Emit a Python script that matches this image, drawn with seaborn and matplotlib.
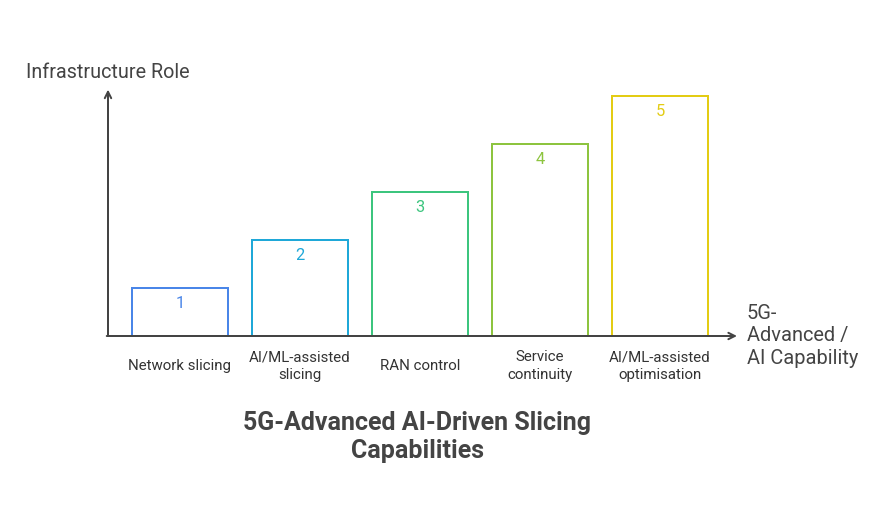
import matplotlib
matplotlib.use("Agg")
import matplotlib.pyplot as plt
import seaborn as sns
import pandas as pd

categories = ["Network slicing", "AI/ML-assisted\nslicing", "RAN control",
              "Service\ncontinuity", "AI/ML-assisted\noptimisation"]
values = [1, 2, 3, 4, 5]
value_labels = ["1", "2", "3", "4", "5"]
colors = ["#4A86E8", "#1FA8D8", "#3CC57E", "#8DC43F", "#E3CC14"]
title = "5G-Advanced AI-Driven Slicing\nCapabilities"
y_label = "Infrastructure Role"
x_label = "5G-\nAdvanced /\nAI Capability"

sns.set_theme(style="white")
plt.rcParams["font.family"] = ["Roboto", "DejaVu Sans"]

DPI = 72
W, H = 884, 516
fig = plt.figure(figsize=(W / DPI, H / DPI), dpi=DPI)
fig.patch.set_facecolor("white")

# axes placed in pixel geometry
left_px, right_px, base_px, top_px = 108, 737, 336, 92
ax = fig.add_axes([left_px / W, (H - base_px) / H,
                   (right_px - left_px) / W, (base_px - top_px) / H])
ax.set_facecolor("none")

df = pd.DataFrame({"cat": categories, "val": values})
sns.barplot(data=df, x="cat", y="val", hue="cat", palette=colors,
            fill=False, linewidth=2, width=0.8, dodge=False, legend=False,
            ax=ax, order=categories, hue_order=categories)

unit = 48.0
ax.set_ylim(0, (base_px - top_px) / unit)
ax.set_xlim(-0.6, (right_px - 180) / 120.0)
for s in ax.spines.values():
    s.set_visible(False)
ax.set_xticks([])
ax.set_yticks([])
ax.set_xlabel("")
ax.set_ylabel("")

axis_col = "#444444"
# axes arrows
ax.annotate("", xy=(0, 1.01), xytext=(0, 0), xycoords="axes fraction",
            arrowprops=dict(arrowstyle="->", lw=2, color=axis_col,
                            mutation_scale=16, shrinkA=0, shrinkB=0),
            annotation_clip=False)
ax.annotate("", xy=(1.0, 0), xytext=(-0.002, 0), xycoords="axes fraction",
            arrowprops=dict(arrowstyle="->", lw=2, color=axis_col,
                            mutation_scale=16, shrinkA=0, shrinkB=0),
            annotation_clip=False)

# value labels inside bars
for i, (v, lab, c) in enumerate(zip(values, value_labels, colors)):
    ax.annotate(lab, xy=(i, v), xytext=(0, -15), textcoords="offset points",
                ha="center", va="center", fontsize=16.5, color=c)

# category labels
for i, cat in enumerate(categories):
    ax.annotate(cat, xy=(i, 0), xytext=(0, -30), textcoords="offset points",
                ha="center", va="center", fontsize=15, color="#333333",
                linespacing=1.3, annotation_clip=False)

# axis titles
fig.text(26 / W, 1 - 72 / H, y_label, ha="left", va="center",
         fontsize=19.8, color=axis_col)
fig.text(747 / W, 1 - 336 / H, x_label, ha="left", va="center",
         fontsize=20, color=axis_col, linespacing=1.25)

# title
fig.text(417 / W, 1 - 437 / H, title, ha="center", va="center",
         fontsize=25, fontweight="bold", color="#444444", linespacing=1.22)

fig.savefig("out.png", dpi=DPI, facecolor="white")
